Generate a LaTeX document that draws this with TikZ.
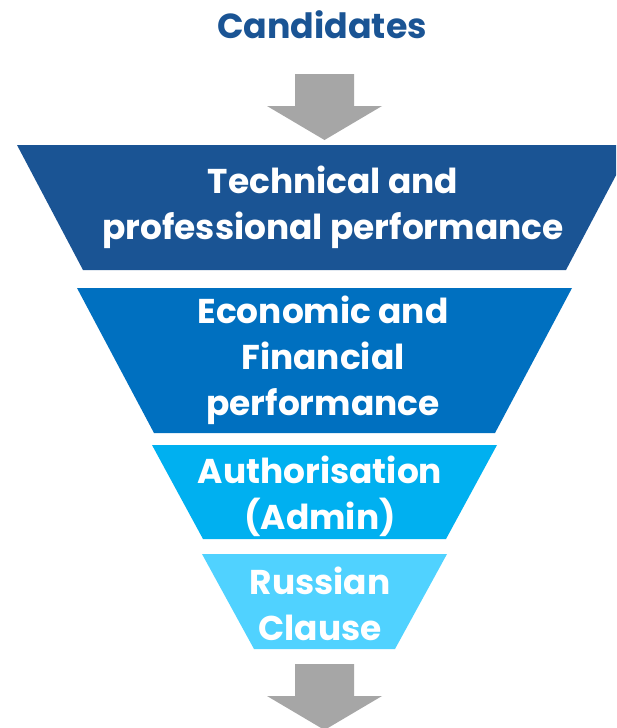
\documentclass[tikz,border=0pt]{standalone}
\usepackage{fontspec}
\setmainfont{Poppins}

\definecolor{funnelA}{HTML}{1A5494}
\definecolor{funnelB}{HTML}{0070C0}
\definecolor{funnelC}{HTML}{00B0F0}
\definecolor{funnelD}{HTML}{50D2FF}
\definecolor{arrowgray}{HTML}{A6A6A6}

\begin{document}
\begin{tikzpicture}[x=1pt,y=-1pt]
	\tikzset{
	band/.style={text=white, font=\bfseries\fontsize{34.4}{46}\selectfont, align=center},
	bigarrow/.style={fill=arrowgray}}

	\def\mx{324.5};

	\clip (0,0) rectangle (616,728);
	\fill[white] (0,0) rectangle (616,728);

	\node[text=funnelA, font=\bfseries\fontsize{34.8}{40}\selectfont] (cand) at (322,25) {Candidates};

	%arrow in
	\fill[bigarrow] (\mx-29.5,74) -- (\mx+29.5,74) -- (\mx+29.5,106) -- (\mx+57.5,106)
		-- (\mx,140) -- (\mx-57.5,106) -- (\mx-29.5,106) -- cycle;

	%funnel
	\fill[funnelA] (\mx-307.5,145) -- (\mx+307.5,145) -- (\mx+241.5,270) -- (\mx-241.5,270) -- cycle;
	\fill[funnelB] (\mx-247.5,288) -- (\mx+247.5,288) -- (\mx+170.5,433) -- (\mx-170.5,433) -- cycle;
	\fill[funnelC] (\mx-172.5,445) -- (\mx+172.5,445) -- (\mx+121.5,539) -- (\mx-121.5,539) -- cycle;
	\fill[funnelD] (\mx-122.5,554) -- (\mx+122.5,554) -- (\mx+70.5,649) -- (\mx-70.5,649) -- cycle;

	\node[band] (tech) at (333,207) {Technical and\\professional performance};
	\node[band] (econ) at (323,360) {Economic and\\Financial\\performance};
	\node[band] (auth) at (320,496) {Authorisation\\(Admin)};
	\node[band] (russ) at (320,604) {Russian\\Clause};

	%arrow out
	\fill[bigarrow] (\mx-29.5,664) -- (\mx+29.5,664) -- (\mx+29.5,696) -- (\mx+57.5,696)
		-- (\mx,730) -- (\mx-57.5,696) -- (\mx-29.5,696) -- cycle;

\end{tikzpicture}
\end{document}
